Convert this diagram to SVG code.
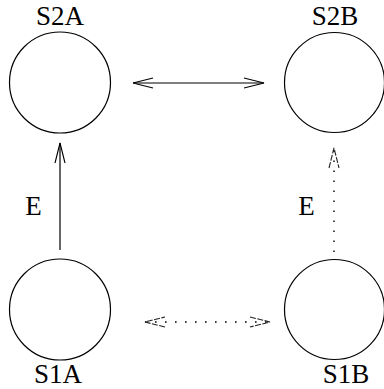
<svg xmlns="http://www.w3.org/2000/svg" width="384" height="389" viewBox="0 0 384 389">
  <style>
    .state { fill: none; stroke: #000; stroke-width: 1.2; }
    .label { font-family: "Liberation Serif", "Times New Roman", serif; font-size: 27px; fill: #000; }
    .solid { stroke: #000; stroke-width: 1.2; fill: none; }
    .dotted { stroke: #000; stroke-width: 1.4; fill: none; stroke-dasharray: 1.6 8.4; }
  </style>
  <defs>
    <marker id="open" markerUnits="userSpaceOnUse" viewBox="-22 -7 24 14" refX="0" refY="0" markerWidth="24" markerHeight="14" orient="auto-start-reverse">
      <path d="M-20,-5 L0,0 L-20,5" fill="none" stroke="#000" stroke-width="1.1"/>
    </marker>
    <marker id="openDim" markerUnits="userSpaceOnUse" viewBox="-22 -7 24 14" refX="0" refY="0" markerWidth="24" markerHeight="14" orient="auto-start-reverse">
      <path d="M-20,-5 L0,0 L-20,5" fill="none" stroke="#222" stroke-width="1.1" stroke-dasharray="6 1.5"/>
    </marker>
  </defs>

  <g id="S2A">
    <circle class="state" cx="60" cy="82.5" r="50.5"/>
    <text class="label" x="60" y="24.5" text-anchor="middle">S2A</text>
  </g>
  <g id="S2B">
    <circle class="state" cx="334.5" cy="82.5" r="50"/>
    <text class="label" x="335" y="24.5" text-anchor="middle">S2B</text>
  </g>
  <g id="S1A">
    <circle class="state" cx="60" cy="309.5" r="50.5"/>
    <text class="label" x="58" y="383" text-anchor="middle">S1A</text>
  </g>
  <g id="S1B">
    <circle class="state" cx="334.5" cy="309.5" r="50"/>
    <text class="label" x="346" y="383" text-anchor="middle">S1B</text>
  </g>

  <g id="connectors">
    <line class="solid" x1="133" y1="83" x2="264" y2="83" marker-start="url(#open)" marker-end="url(#open)"/>
    <line class="solid" x1="60" y1="250" x2="60" y2="143" marker-end="url(#open)"/>
    <text class="label" x="33.5" y="215" text-anchor="middle">E</text>
    <line class="dotted" x1="334" y1="252" x2="334" y2="148" marker-end="url(#openDim)"/>
    <text class="label" x="306.5" y="215" text-anchor="middle">E</text>
    <line class="dotted" x1="145" y1="322" x2="270" y2="322" marker-start="url(#openDim)" marker-end="url(#openDim)"/>
  </g>
</svg>
